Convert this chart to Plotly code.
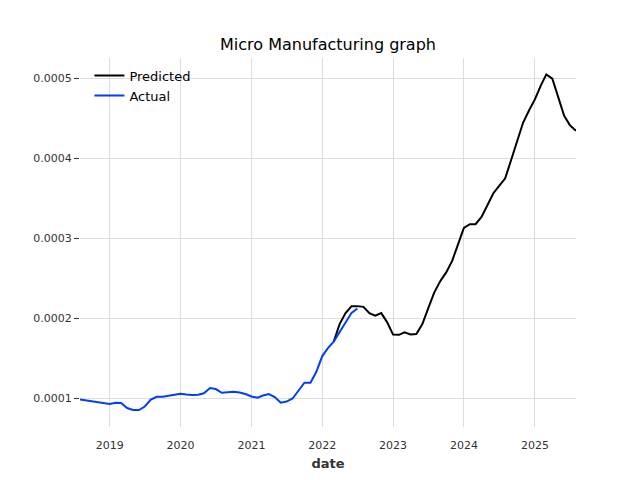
import pandas as pd
import plotly.graph_objects as go

# monthly values, units of 1e-4
actual_start = "2018-08-01"
actual_vals = [0.981, 0.969, 0.9625, 0.950, 0.9375,
               0.925, 0.941, 0.9375, 0.875, 0.850, 0.850, 0.894, 0.981, 1.016, 1.016, 1.029, 1.0375,
               1.054, 1.044, 1.0375, 1.041, 1.059, 1.125, 1.1125, 1.066, 1.069, 1.079, 1.069, 1.050,
               1.019, 1.004, 1.031, 1.050, 1.0125, 0.941, 0.956, 0.994, 1.094, 1.191, 1.191, 1.325,
               1.525, 1.631, 1.706, 1.831, 1.9375, 2.066, 2.121]

pred_start = "2022-03-01"
pred_vals = [1.706, 1.929, 2.0625, 2.150, 2.150, 2.141, 2.0625, 2.031, 2.0625, 1.950,
             1.794, 1.791, 1.821, 1.796, 1.800, 1.925, 2.121, 2.319, 2.4625, 2.569, 2.7125, 2.925,
             3.129, 3.175, 3.175, 3.266, 3.419, 3.5625, 3.656, 3.750, 3.981, 4.219, 4.444, 4.594,
             4.7375, 4.9125, 5.050, 4.996, 4.7625, 4.531, 4.4125, 4.344]

actual_dates = pd.date_range(actual_start, periods=len(actual_vals), freq="MS")
pred_dates = pd.date_range(pred_start, periods=len(pred_vals), freq="MS")
actual = [v * 1e-4 for v in actual_vals]
pred = [v * 1e-4 for v in pred_vals]

fig = go.Figure()
fig.add_trace(go.Scatter(x=pred_dates, y=pred, mode="lines", name="Predicted",
                         line=dict(color="#000000", width=2)))
fig.add_trace(go.Scatter(x=actual_dates, y=actual, mode="lines", name="Actual",
                         line=dict(color="#003DFD", width=2)))

# page body has an 8px margin, so everything is nudged up/left by 8
fig.update_layout(
    width=640, height=480,
    margin=dict(l=72, r=72, t=50, b=61),
    paper_bgcolor="white", plot_bgcolor="white",
    font=dict(family="DejaVu Sans", size=11, color="#333333"),
    title=dict(text="Micro Manufacturing graph", x=0.5, xanchor="center",
               y=1 - 36 / 480, yanchor="middle",
               font=dict(size=16, color="#000000")),
    legend=dict(x=0.019, y=0.993, xanchor="left", yanchor="top",
                bgcolor="rgba(0,0,0,0)", font=dict(size=13, color="#000000"),
                tracegroupgap=2),
    showlegend=True,
)
fig.update_xaxes(
    range=["2018-08-01", "2025-08-01"],
    showgrid=True, gridcolor="#dddddd", gridwidth=1,
    dtick="M12", tick0="2019-01-01", tickformat="%Y",
    showline=False, zeroline=False,
    ticks="outside", ticklen=8, tickcolor="rgba(0,0,0,0)",
    title=dict(text="<b>date</b>", font=dict(size=13, color="#333333"), standoff=7),
)
fig.update_yaxes(
    range=[0.6375e-4, 5.255e-4],
    showgrid=True, gridcolor="#dddddd", gridwidth=1,
    dtick=0.0001, tick0=0, tickformat=".4f",
    showline=False, zeroline=False,
    ticks="outside", ticklen=5, tickcolor="#333333", tickwidth=1,
)

fig.write_html("out.html")
